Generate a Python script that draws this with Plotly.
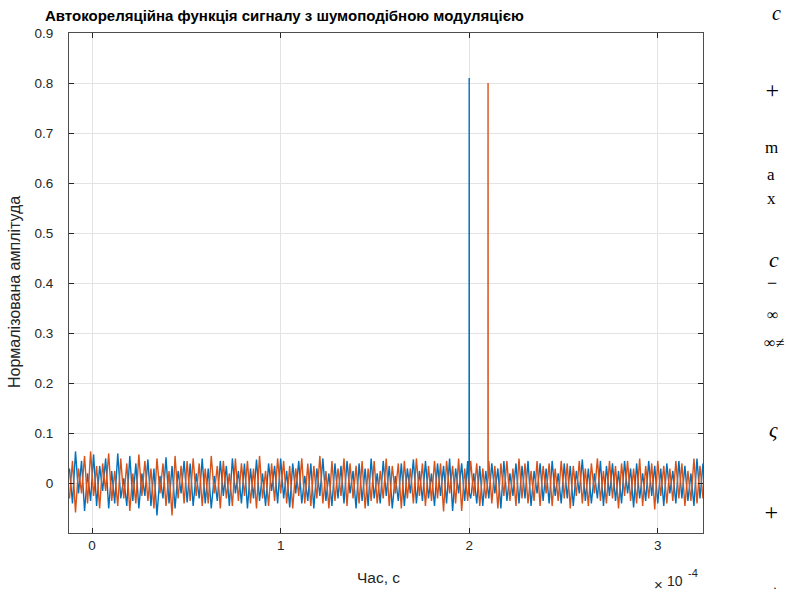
import numpy as np
import plotly.graph_objects as go

# ---------------- data ----------------
# time grid (units of 1e-4 s)
t_start = -0.12
t_step = 0.016

blue_noise = [
    0.03, -0.04, 0.064, -0.02, 0.045, -0.055, 0.02, -0.035, 0.058, -0.045,
    0.035, -0.015, 0.05, -0.05, 0.025, -0.04, 0.06, -0.03, 0.01, -0.045,
    0.055, -0.035, 0.04, -0.05, 0.02, -0.025, 0.048, -0.045, 0.03, -0.064,
    0.015, -0.03, 0.052, -0.04, 0.035, -0.05, 0.025, -0.02, 0.045, -0.038,
    0.04, -0.045, 0.02, -0.03, 0.05, -0.04, 0.03, -0.05, 0.015, -0.035,
    0.045, -0.025, 0.035, -0.045, 0.05, -0.02, 0.025, -0.04, 0.04, -0.05,
    0.03, -0.03, 0.048, -0.035, 0.02, -0.045, 0.04, -0.015, 0.035, -0.04,
    0.05, -0.03, 0.025, -0.048, 0.04, -0.02, 0.045, -0.04, 0.015, -0.035,
    0.04, -0.05, 0.03, -0.025, 0.05, -0.035, 0.02, -0.045, 0.04, -0.03,
    0.035, -0.04, 0.045, -0.02, 0.025, -0.05, 0.04, -0.035, 0.03, -0.045,
    0.05, -0.03, 0.02, -0.04, 0.045, -0.025, 0.035, -0.05, 0.015, -0.035,
    0.04, -0.045, 0.03, -0.02, 0.048, -0.04, 0.025, -0.035, 0.045, -0.03,
    0.02, -0.045, 0.04, -0.025, 0.035, -0.04, 0.05, -0.055, 0.03, -0.02,
    0.04, -0.035, 0.045, -0.03, 0.02, -0.04, 0.035, -0.045, 0.025, -0.03,
    0.04, -0.02, 0.03, -0.05, 0.045, -0.035, 0.02, -0.025, 0.04, -0.04,
    0.035, -0.03, 0.045, -0.045, 0.025, -0.02, 0.04, -0.035, 0.03, -0.04,
    0.045, -0.025, 0.02, -0.04, 0.04, -0.03, 0.035, -0.045, 0.025, -0.02,
    0.048, -0.035, 0.03, -0.04, 0.02, -0.03, 0.045, -0.045, 0.035, -0.025,
    0.04, -0.035, 0.025, -0.04, 0.045, -0.02, 0.03, -0.048, 0.04, -0.03,
    0.02, -0.035, 0.045, -0.025, 0.035, -0.04, 0.03, -0.045, 0.04, -0.02,
    0.025, -0.04, 0.045, -0.03, 0.035, -0.035, 0.02, -0.045, 0.05, -0.03,
    0.04,
]

orange_noise = [
    -0.03, 0.045, -0.058, 0.03, -0.02, 0.055, -0.04, 0.064, -0.025, 0.035,
    -0.05, 0.04, -0.015, 0.06, -0.035, 0.025, -0.045, 0.05, -0.03, 0.04,
    -0.055, 0.02, -0.04, 0.058, -0.025, 0.045, -0.035, 0.03, -0.05, 0.05,
    -0.02, 0.04, -0.045, 0.025, -0.064, 0.055, -0.03, 0.035, -0.04, 0.045,
    -0.035, 0.05, -0.025, 0.04, -0.045, 0.03, -0.04, 0.055, -0.02, 0.035,
    -0.05, 0.045, -0.03, 0.02, -0.045, 0.05, -0.035, 0.04, -0.025, 0.045,
    -0.04, 0.03, -0.05, 0.055, -0.03, 0.025, -0.045, 0.04, -0.035, 0.05,
    -0.02, 0.045, -0.04, 0.035, -0.05, 0.03, -0.025, 0.05, -0.04, 0.04,
    -0.045, 0.035, -0.03, 0.055, -0.04, 0.025, -0.05, 0.045, -0.035, 0.03,
    -0.025, 0.05, -0.045, 0.04, -0.03, 0.035, -0.04, 0.045, -0.05, 0.03,
    -0.035, 0.045, -0.04, 0.025, -0.03, 0.05, -0.045, 0.035, -0.02, 0.04,
    -0.05, 0.045, -0.03, 0.03, -0.04, 0.05, -0.025, 0.04, -0.045, 0.035,
    -0.035, 0.045, -0.03, 0.04, -0.056, 0.045, -0.02, 0.035, -0.04, 0.05,
    -0.055, 0.03, -0.035, 0.045, -0.025, 0.04, -0.045, 0.03, -0.03, 0.045,
    -0.04, 0.035, -0.05, 0.04, -0.025, 0.045, -0.035, 0.03, -0.045, 0.05,
    -0.03, 0.04, -0.04, 0.025, -0.035, 0.045, -0.045, 0.035, -0.02, 0.04,
    -0.045, 0.03, -0.035, 0.045, -0.03, 0.04, -0.05, 0.035, -0.025, 0.045,
    -0.04, 0.03, -0.045, 0.04, -0.02, 0.05, -0.035, 0.025, -0.04, 0.045,
    -0.03, 0.035, -0.05, 0.04, -0.025, 0.045, -0.035, 0.03, -0.04, 0.05,
    -0.045, 0.035, -0.03, 0.04, -0.052, 0.045, -0.025, 0.035, -0.04, 0.03,
    -0.035, 0.045, -0.03, 0.04, -0.045, 0.025, -0.035, 0.05, -0.04, 0.035,
    -0.03,
]

# correlation peaks (lag in units of 1e-4 s)
blue_peak_t = [2.0]
blue_peak_val = [0.81]
blue_peak_base = [-0.02]
orange_peak_t = [2.1]
orange_peak_val = [0.80]
orange_peak_base = [0.01]

x_tick_vals = [0, 1, 2, 3]
x_tick_text = ["0", "1", "2", "3"]
y_tick_vals = [0, 0.1, 0.2, 0.3, 0.4, 0.5, 0.6, 0.7, 0.8, 0.9]
y_tick_text = ["0", "0.1", "0.2", "0.3", "0.4", "0.5", "0.6", "0.7", "0.8", "0.9"]

title_text = "Автокореляційна функція сигналу з шумоподібною модуляцією"
x_label = "Час, с"
y_label = "Нормалізована амплітуда"


def build_series(noise, peak_t, peak_val, peak_base, half_width=0.0006):
    t = t_start + t_step * np.arange(len(noise))
    ts = list(t)
    ys = list(noise)
    for pt, pv, pb in zip(peak_t, peak_val, peak_base):
        ts += [pt - half_width, pt, pt + half_width]
        ys += [pb, pv, pb]
    order = np.argsort(ts, kind="stable")
    return np.array(ts)[order] * 1e-4, np.array(ys)[order]


bx, by = build_series(blue_noise, blue_peak_t, blue_peak_val, blue_peak_base)
ox, oy = build_series(orange_noise, orange_peak_t, orange_peak_val, orange_peak_base)

BLUE = "#0072BD"
ORANGE = "#D95319"

fig = go.Figure()
fig.add_trace(go.Scatter(x=bx, y=by, mode="lines",
                         line=dict(color=BLUE, width=1.4), showlegend=False))
fig.add_trace(go.Scatter(x=ox, y=oy, mode="lines",
                         line=dict(color=ORANGE, width=1.4), showlegend=False))

W, H = 786, 596
L, R, T, B = 69, 83, 33, 63
PW, PH = W - L - R, H - T - B


def pp(xp, yp):
    return (xp - L) / PW, (H - B - yp) / PH


FONT = "Liberation Sans, Arial, sans-serif"
TXT = "#262626"

axis_common = dict(
    showline=True, linecolor="#4d4d4d", linewidth=1, mirror="ticks",
    ticks="inside", ticklen=5, tickcolor="#262626", tickwidth=1,
    showgrid=True, gridcolor="#e3e3e3", gridwidth=1, zeroline=False,
    tickfont=dict(family=FONT, size=13.5, color=TXT),
)

fig.update_layout(
    width=W, height=H,
    margin=dict(l=L, r=R, t=T, b=B, pad=0),
    paper_bgcolor="white", plot_bgcolor="white",
    xaxis=dict(range=[-0.1225e-4, 3.24e-4],
               tickvals=[v * 1e-4 for v in x_tick_vals], ticktext=x_tick_text,
               **axis_common),
    yaxis=dict(range=[-0.099, 0.9], tickvals=y_tick_vals, ticktext=y_tick_text,
               ticklabelstandoff=12, **axis_common),
    showlegend=False,
)

ann = []
# title
x0, y0 = pp(43, 16)
ann.append(dict(x=x0, y=y0, xref="paper", yref="paper", text="<b>" + title_text + "</b>",
                showarrow=False, xanchor="left", yanchor="middle",
                font=dict(family=FONT, size=15, color="black")))
# x label
x0, y0 = pp(378, 577)
ann.append(dict(x=x0, y=y0, xref="paper", yref="paper", text=x_label,
                showarrow=False, xanchor="center", yanchor="middle",
                font=dict(family=FONT, size=15.5, color=TXT)))
# y label
x0, y0 = pp(14, 292)
ann.append(dict(x=x0, y=y0, xref="paper", yref="paper", text=y_label, textangle=-90,
                showarrow=False, xanchor="center", yanchor="middle",
                font=dict(family=FONT, size=16, color=TXT)))
# exponent
for txt, xp, yp, sz in [("×", 658, 584, 15), ("10", 675, 581, 14), ("-4", 693, 573, 11)]:
    x0, y0 = pp(xp, yp)
    ann.append(dict(x=x0, y=y0, xref="paper", yref="paper", text=txt,
                    showarrow=False, xanchor="center", yanchor="middle",
                    font=dict(family=FONT, size=sz, color=TXT)))

# stray glyphs on the right side
SERIF = "Liberation Serif, DejaVu Serif, serif"
glyphs = [
    ("<i>c</i>", 776, 13, 20), ("<i>+</i>", 772, 90, 24),
    ("m", 771, 147, 17), ("a", 771, 174, 17), ("x", 771, 199, 17),
    ("<i>c</i>", 774, 259, 22), ("−", 772, 283, 18),
    ("∞", 772, 314, 16), ("∞<i>≠</i>", 774, 342, 16),
    ("<i>ς</i>", 773, 430, 21), ("<i>+</i>", 771, 512, 24), ("·", 775, 588, 12),
]
for txt, xp, yp, sz in glyphs:
    x0, y0 = pp(xp, yp)
    ann.append(dict(x=x0, y=y0, xref="paper", yref="paper", text=txt,
                    showarrow=False, xanchor="center", yanchor="middle",
                    font=dict(family=SERIF, size=sz, color="black")))

fig.update_layout(annotations=ann)
fig.write_html("out.html")
